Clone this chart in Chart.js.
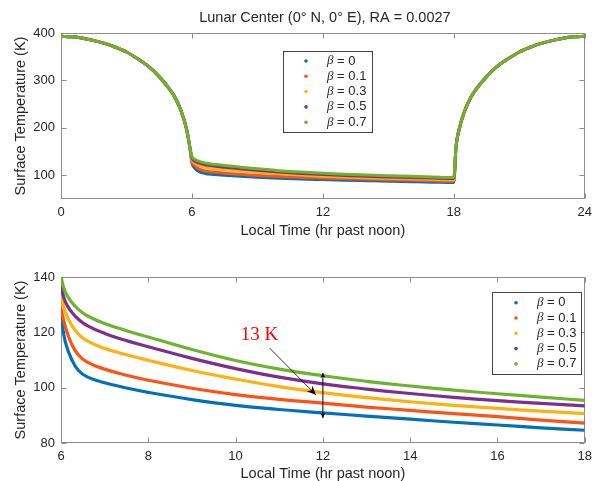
<!DOCTYPE html>
<html>
<head>
<meta charset="utf-8">
<script src="https://cdn.jsdelivr.net/npm/chart.js@4.4.1/dist/chart.umd.min.js"></script>
<style>
  html, body { margin: 0; padding: 0; background: #fff; overflow: hidden; }
  #topChart { position: absolute; left: 0; top: 0; }
  #bottomChart { position: absolute; left: 0; top: 245px; }
</style>
</head>
<body>
<canvas id="topChart" width="598" height="245"></canvas>
<canvas id="bottomChart" width="598" height="250"></canvas>
<script>
const betaLabels = ["0", "0.1", "0.3", "0.5", "0.7"];
const betaColors = ["#0072BD", "#FF5316", "#FFB10F", "#7E2F8E", "#6DB32E"];

// daytime (same for every beta)
const dayHours = [0, 0.5, 1, 1.5, 2, 2.5, 3, 3.5, 4, 4.5, 5, 5.25, 5.5, 5.75, 5.9];
const dayTemps = [393, 392, 389, 384, 378, 370, 360, 346, 330, 308, 280, 262, 236, 198, 160];
const morningHours = [18.1, 18.25, 18.5, 18.75, 19, 19.5, 20, 20.5, 21, 21.5, 22, 22.5, 23, 23.5, 24];
const morningTemps = [160, 198, 236, 262, 280, 308, 330, 346, 360, 370, 378, 384, 389, 392, 393];

// night cooling per beta
const nightHours = [6, 6.1, 6.25, 6.4, 6.6, 7, 7.5, 8, 9, 10, 11, 12, 13, 14, 15, 16, 17, 18];
const nightBeta0  = [126, 116.5, 110, 106.2, 103.9, 101.8, 99.9, 98.3, 95.7, 93.6, 92.1, 90.9, 89.7, 88.6, 87.5, 86.5, 85.5, 84.6];
const nightBeta01 = [128.7, 122, 115.5, 111.8, 109.2, 106.7, 104.5, 102.7, 99.8, 97.5, 95.8, 94.4, 93.0, 91.8, 90.6, 89.5, 88.3, 87.2];
const nightBeta03 = [133, 127.2, 122.4, 119.4, 116.9, 114.2, 111.9, 109.9, 106.2, 103.1, 100.4, 98.2, 96.4, 94.9, 93.6, 92.5, 91.5, 90.6];
const nightBeta05 = [136.7, 131.0, 127.2, 124.7, 122.4, 119.6, 117.0, 114.8, 110.6, 106.9, 103.8, 101.4, 99.5, 97.9, 96.5, 95.3, 94.3, 93.4];
const nightBeta07 = [140, 134.5, 130.8, 128.3, 126.0, 123.2, 120.6, 118.3, 113.8, 109.8, 106.7, 104.3, 102.3, 100.6, 99.1, 97.8, 96.6, 95.4];
const nightSeries = [nightBeta0, nightBeta01, nightBeta03, nightBeta05, nightBeta07];

const topXTicks = [0, 6, 12, 18, 24];
const topYTicks = [100, 200, 300, 400];
const bottomXTicks = [6, 8, 10, 12, 14, 16, 18];
const bottomYTicks = [80, 100, 120, 140];

// "13 K" annotation, in data units
const gapHour = 12;
const gapLow = 89;
const gapHigh = 105.3;
const gapText = "13 K";
const gapTextAt = [10.55, 119];
const gapArrowFrom = [10.78, 114.3];
const gapArrowTo = [11.84, 97.4];

const sans = '"Liberation Sans", Arial, Helvetica, sans-serif';
const textColor = "#262626";
const frameColor = "#8c8c8c";

function toPoints(hours, temps) {
  return hours.map((h, k) => ({ x: h, y: temps[k] }));
}

function makeDatasets(full) {
  return nightSeries.map((night, i) => ({
    label: betaLabels[i],
    data: full
      ? [...toPoints(dayHours, dayTemps), ...toPoints(nightHours, night), ...toPoints(morningHours, morningTemps)]
      : toPoints(nightHours, night),
    borderColor: betaColors[i],
    backgroundColor: betaColors[i],
    borderWidth: full ? 3 : 3.2,
    pointRadius: 0,
    fill: false,
    tension: full ? 0.4 : 0.45,
    cubicInterpolationMode: full ? "monotone" : "default",
    order: betaLabels.length - 1 - i
  }));
}

function frameFor(xTicks, yTicks) {
  return {
    id: "matlabFrame",
    beforeDatasetsDraw(chart) {
      const { ctx, chartArea: a, scales } = chart;
      const L = Math.round(a.left) + 0.5, R = Math.round(a.right) - 0.5;
      const T = Math.round(a.top) + 0.5, B = Math.round(a.bottom) - 0.5;
      ctx.save();
      ctx.strokeStyle = frameColor;
      ctx.lineWidth = 1;
      ctx.strokeRect(L, T, R - L, B - T);
      ctx.beginPath();
      xTicks.forEach((v) => {
        const px = Math.round(scales.x.getPixelForValue(v)) + 0.5;
        ctx.moveTo(px, B); ctx.lineTo(px, B - 5);
        ctx.moveTo(px, T); ctx.lineTo(px, T + 5);
      });
      yTicks.forEach((v) => {
        const py = Math.round(scales.y.getPixelForValue(v)) + 0.5;
        ctx.moveTo(L, py); ctx.lineTo(L + 5, py);
        ctx.moveTo(R, py); ctx.lineTo(R - 5, py);
      });
      ctx.stroke();
      ctx.restore();
    }
  };
}

function legendFor(box) {
  return {
    id: "betaLegend",
    afterDraw(chart) {
      const { ctx } = chart;
      ctx.save();
      ctx.fillStyle = "#fff";
      ctx.fillRect(box.x, box.y, box.w, box.h);
      ctx.strokeStyle = "#444";
      ctx.lineWidth = 1;
      ctx.strokeRect(box.x + 0.5, box.y + 0.5, box.w, box.h);
      chart.data.datasets.forEach((ds, i) => {
        const cy = box.y + box.first + i * box.step;
        ctx.fillStyle = ds.borderColor;
        ctx.beginPath();
        ctx.arc(box.x + box.dotX, cy, 1.8, 0, Math.PI * 2);
        ctx.fill();
        ctx.fillStyle = textColor;
        ctx.textBaseline = "middle";
        ctx.textAlign = "left";
        ctx.font = 'italic 13px "Liberation Serif", "Times New Roman", serif';
        const tx = box.x + box.textX;
        ctx.fillText("β", tx, cy);
        const bw = ctx.measureText("β").width;
        ctx.font = "13px " + sans;
        ctx.fillText(" = " + ds.label, tx + bw, cy);
      });
      ctx.restore();
    }
  };
}

const topTitle = {
  id: "topTitle",
  afterDraw(chart) {
    const { ctx, chartArea: a } = chart;
    ctx.save();
    ctx.fillStyle = textColor;
    ctx.font = "14.5px " + sans;
    ctx.textAlign = "center";
    ctx.textBaseline = "middle";
    ctx.fillText("Lunar Center (0° N, 0° E), RA = 0.0027", (a.left + a.right) / 2 + 2, 18);
    ctx.restore();
  }
};

function arrowHead(ctx, x0, y0, x1, y1, len, wid) {
  const ang = Math.atan2(y1 - y0, x1 - x0);
  ctx.beginPath();
  ctx.moveTo(x1, y1);
  ctx.lineTo(x1 - len * Math.cos(ang) + wid * Math.sin(ang), y1 - len * Math.sin(ang) - wid * Math.cos(ang));
  ctx.lineTo(x1 - len * 0.7 * Math.cos(ang), y1 - len * 0.7 * Math.sin(ang));
  ctx.lineTo(x1 - len * Math.cos(ang) - wid * Math.sin(ang), y1 - len * Math.sin(ang) + wid * Math.cos(ang));
  ctx.closePath();
  ctx.fill();
}

const gapNote = {
  id: "gapNote",
  afterDatasetsDraw(chart) {
    const { ctx, scales } = chart;
    const X = (v) => scales.x.getPixelForValue(v);
    const Y = (v) => scales.y.getPixelForValue(v);
    ctx.save();
    ctx.fillStyle = "#ff0000";
    ctx.font = '19px "Liberation Serif", "Times New Roman", serif';
    ctx.textAlign = "center";
    ctx.textBaseline = "middle";
    ctx.fillText(gapText, X(gapTextAt[0]), Y(gapTextAt[1]));

    ctx.strokeStyle = "#000";
    ctx.fillStyle = "#000";
    ctx.lineWidth = 0.8;
    const ax0 = X(gapArrowFrom[0]), ay0 = Y(gapArrowFrom[1]);
    const ax1 = X(gapArrowTo[0]), ay1 = Y(gapArrowTo[1]);
    ctx.beginPath(); ctx.moveTo(ax0, ay0); ctx.lineTo(ax1, ay1); ctx.stroke();
    arrowHead(ctx, ax0, ay0, ax1, ay1, 9, 4);

    const gx = X(gapHour), gy0 = Y(gapLow), gy1 = Y(gapHigh);
    ctx.lineWidth = 1;
    ctx.beginPath(); ctx.moveTo(gx, gy0); ctx.lineTo(gx, gy1); ctx.stroke();
    arrowHead(ctx, gx, gy0, gx, gy1, 5, 2.5);
    arrowHead(ctx, gx, gy1, gx, gy0, 5, 2.5);
    ctx.restore();
  }
};

function axisOptions(min, max, ticks, fit, titleText, titlePad) {
  return {
    type: "linear",
    min: min,
    max: max,
    afterBuildTicks: (s) => { s.ticks = ticks.map((v) => ({ value: v })); },
    afterFit: fit,
    grid: { display: false, drawTicks: false },
    border: { display: false },
    ticks: { color: textColor, font: { size: 13, family: sans }, padding: 6, maxRotation: 0, autoSkip: false },
    title: { display: true, text: titleText, color: textColor, font: { size: 14.5, family: sans }, padding: titlePad }
  };
}

Chart.defaults.font.family = sans;

new Chart(document.getElementById("topChart"), {
  type: "line",
  data: { datasets: makeDatasets(true) },
  options: {
    responsive: false,
    animation: false,
    events: [],
    layout: { padding: { top: 33, right: 5, left: 0, bottom: 0 } },
    plugins: { legend: { display: false }, tooltip: { enabled: false } },
    scales: {
      x: axisOptions(0, 24, topXTicks, (s) => { s.height = 46; }, "Local Time (hr past noon)", { top: 0, bottom: 5.3 }),
      y: axisOptions(50, 400, topYTicks, (s) => { s.width = 61; }, "Surface Temperature (K)", { top: 12.3, bottom: 0 })
    }
  },
  plugins: [frameFor(topXTicks, topYTicks), legendFor({ x: 283, y: 51, w: 89, h: 81, first: 10, step: 15.3, dotX: 23, textX: 44 }), topTitle]
});

new Chart(document.getElementById("bottomChart"), {
  type: "line",
  data: { datasets: makeDatasets(false) },
  options: {
    responsive: false,
    animation: false,
    events: [],
    layout: { padding: { top: 32, right: 5, left: 0, bottom: 0 } },
    plugins: { legend: { display: false }, tooltip: { enabled: false } },
    scales: {
      x: axisOptions(6, 18, bottomXTicks, (s) => { s.height = 52; }, "Local Time (hr past noon)", { top: 0, bottom: 12.3 }),
      y: axisOptions(80, 140, bottomYTicks, (s) => { s.width = 61; }, "Surface Temperature (K)", { top: 12.3, bottom: 0 })
    }
  },
  plugins: [frameFor(bottomXTicks, bottomYTicks), legendFor({ x: 492, y: 47, w: 89, h: 82, first: 10.7, step: 15.3, dotX: 24, textX: 45 }), gapNote]
});
</script>
</body>
</html>
